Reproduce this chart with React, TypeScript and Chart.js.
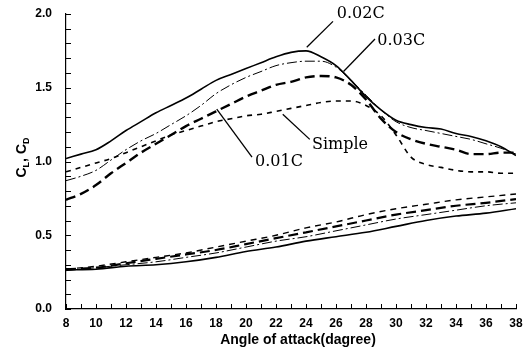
import { useEffect, useRef } from "react";
import { Chart, registerables } from "chart.js";

Chart.register(...registerables);

// ---- data ----
const angles = [8, 9, 10, 11, 12, 13, 14, 15, 16, 17, 18, 19, 20, 21, 22, 23, 24, 25, 26, 27, 28, 29, 30, 31, 32, 33, 34, 35, 36, 37, 38];

const cl002 = [1.02, 1.05, 1.08, 1.14, 1.21, 1.27, 1.33, 1.38, 1.43, 1.49, 1.55, 1.59, 1.63, 1.67, 1.71, 1.74, 1.75, 1.71, 1.65, 1.55, 1.44, 1.35, 1.28, 1.25, 1.23, 1.22, 1.19, 1.17, 1.14, 1.10, 1.04];
const cl003 = [0.87, 0.90, 0.94, 1.01, 1.08, 1.14, 1.19, 1.25, 1.31, 1.38, 1.46, 1.52, 1.57, 1.61, 1.65, 1.67, 1.68, 1.68, 1.64, 1.55, 1.45, 1.35, 1.27, 1.23, 1.21, 1.19, 1.17, 1.15, 1.12, 1.09, 1.05];
const cl001 = [0.74, 0.78, 0.84, 0.92, 0.99, 1.06, 1.12, 1.18, 1.24, 1.29, 1.34, 1.39, 1.44, 1.48, 1.52, 1.54, 1.57, 1.58, 1.57, 1.52, 1.42, 1.29, 1.20, 1.15, 1.12, 1.10, 1.08, 1.05, 1.05, 1.06, 1.06];
const clSimple = [0.93, 0.96, 0.99, 1.02, 1.06, 1.10, 1.14, 1.18, 1.21, 1.24, 1.27, 1.29, 1.31, 1.32, 1.34, 1.36, 1.38, 1.40, 1.41, 1.41, 1.38, 1.31, 1.18, 1.03, 0.98, 0.96, 0.94, 0.93, 0.93, 0.92, 0.92];

const dragAngles = [8, 10, 12, 14, 16, 18, 20, 22, 24, 26, 28, 30, 32, 34, 36, 38];
const cd002 = [0.265, 0.27, 0.29, 0.30, 0.32, 0.35, 0.39, 0.42, 0.46, 0.49, 0.52, 0.56, 0.60, 0.63, 0.65, 0.68];
const cd003 = [0.26, 0.28, 0.30, 0.32, 0.35, 0.38, 0.42, 0.46, 0.49, 0.53, 0.57, 0.61, 0.64, 0.67, 0.70, 0.72];
const cd001 = [0.27, 0.28, 0.31, 0.34, 0.37, 0.40, 0.44, 0.48, 0.52, 0.56, 0.60, 0.64, 0.67, 0.70, 0.72, 0.745];
const cdSimple = [0.27, 0.29, 0.32, 0.35, 0.38, 0.42, 0.46, 0.50, 0.55, 0.59, 0.64, 0.68, 0.71, 0.74, 0.76, 0.78];

const xMin = 8;
const xMax = 38;
const yMin = 0;
const yMax = 2;
const xTitle = "Angle of attack(dagree)";

const annotationTexts = ["0.02C", "0.03C", "Simple", "0.01C"];
const annotationFrom = [[24.05, 1.775], [26.5, 1.61], [22.45, 1.32], [18.05, 1.355]];
const annotationTo = [[25.8, 1.95], [28.6, 1.83], [24.25, 1.15], [20.4, 1.03]];
const annotationAt = [[26.05, 2.0], [28.75, 1.82], [24.4, 1.115], [20.6, 1.0]];

function pts(xs: number[], ys: number[]) {
  return xs.map((x, i) => ({ x, y: ys[i] }));
}

const overlayPlugin = {
  id: "overlay",
  afterDraw(chart: any) {
    const { ctx, chartArea } = chart;
    const xs = chart.scales.x;
    const ys = chart.scales.y;
    ctx.save();
    ctx.strokeStyle = "#000";
    ctx.fillStyle = "#000";

    // inward tick marks
    ctx.lineWidth = 1;
    ctx.beginPath();
    ys.ticks.forEach((t: any) => {
      const py = Math.round(ys.getPixelForValue(t.value)) + 0.5;
      ctx.moveTo(chartArea.left, py);
      ctx.lineTo(chartArea.left + 5, py);
    });
    xs.ticks.forEach((t: any) => {
      const px = Math.round(xs.getPixelForValue(t.value)) + 0.5;
      ctx.moveTo(px, chartArea.bottom);
      ctx.lineTo(px, chartArea.bottom - 5);
    });
    ctx.stroke();

    // leader lines + labels
    ctx.lineWidth = 1.3;
    ctx.font = '16px "DejaVu Serif"';
    ctx.textAlign = "left";
    ctx.textBaseline = "middle";
    annotationTexts.forEach((t, i) => {
      ctx.beginPath();
      ctx.moveTo(xs.getPixelForValue(annotationFrom[i][0]), ys.getPixelForValue(annotationFrom[i][1]));
      ctx.lineTo(xs.getPixelForValue(annotationTo[i][0]), ys.getPixelForValue(annotationTo[i][1]));
      ctx.stroke();
      ctx.fillText(t, xs.getPixelForValue(annotationAt[i][0]), ys.getPixelForValue(annotationAt[i][1]));
    });

    // x axis title
    ctx.font = 'bold 14px "Liberation Sans", Arial, sans-serif';
    ctx.textAlign = "center";
    ctx.textBaseline = "middle";
    ctx.fillText(xTitle, (chartArea.left + chartArea.right) / 2 + 7, chartArea.bottom + 31);

    // y axis title  C_L, C_D
    const cy = (chartArea.top + chartArea.bottom) / 2 - 4;
    ctx.translate(chartArea.left - 40, cy);
    ctx.rotate(-Math.PI / 2);
    const big = 'bold 14px "Liberation Sans", Arial, sans-serif';
    const small = 'bold 9px "Liberation Sans", Arial, sans-serif';
    const parts: [string, string, number][] = [
      ["C", big, 0],
      ["L", small, 3],
      [", ", big, 0],
      ["C", big, 0],
      ["D", small, 3],
    ];
    let total = 0;
    parts.forEach(([s, f]) => {
      ctx.font = f;
      total += ctx.measureText(s).width;
    });
    let px = -total / 2;
    ctx.textAlign = "left";
    ctx.textBaseline = "alphabetic";
    parts.forEach(([s, f, dy]) => {
      ctx.font = f;
      ctx.fillText(s, px, dy);
      px += ctx.measureText(s).width;
    });
    ctx.restore();
  },
};

export default function App() {
  const ref = useRef<HTMLCanvasElement | null>(null);

  useEffect(() => {
    if (!ref.current) return;
    const black = "#000";
    const base = {
      borderColor: black,
      pointRadius: 0,
      fill: false,
      cubicInterpolationMode: "monotone" as const,
    };
    const chart = new Chart(ref.current, {
      type: "line",
      data: {
        datasets: [
          { ...base, label: "0.02C", data: pts(angles, cl002), borderWidth: 1.6 },
          { ...base, label: "0.03C", data: pts(angles, cl003), borderWidth: 1, borderDash: [10, 3, 2, 3] },
          { ...base, label: "0.01C", data: pts(angles, cl001), borderWidth: 2.4, borderDash: [10, 5] },
          { ...base, label: "Simple", data: pts(angles, clSimple), borderWidth: 1.6, borderDash: [5, 5] },
          { ...base, label: "CD 0.02C", data: pts(dragAngles, cd002), borderWidth: 1.6 },
          { ...base, label: "CD 0.03C", data: pts(dragAngles, cd003), borderWidth: 1, borderDash: [10, 3, 2, 3] },
          { ...base, label: "CD 0.01C", data: pts(dragAngles, cd001), borderWidth: 2.2, borderDash: [10, 5] },
          { ...base, label: "CD Simple", data: pts(dragAngles, cdSimple), borderWidth: 1.4, borderDash: [6, 5] },
        ],
      },
      options: {
        responsive: false,
        animation: false,
        layout: { padding: { top: 14, right: 13, left: 0, bottom: 0 } },
        plugins: { legend: { display: false }, tooltip: { enabled: false } },
        scales: {
          x: {
            type: "linear",
            min: xMin,
            max: xMax,
            afterFit: (s: any) => {
              s.height = 46;
              s.paddingLeft = 0;
              s.paddingRight = 0;
            },
            ticks: {
              stepSize: 1,
              autoSkip: false,
              maxRotation: 0,
              padding: 7,
              color: black,
              font: { family: '"Liberation Sans", Arial, sans-serif', size: 12, weight: "bold" },
              callback: (v: any) => (Math.round(v) % 2 === 0 ? String(Math.round(v)) : ""),
            },
            grid: { display: false, drawTicks: false },
            border: { display: true, color: black, width: 1.2 },
          },
          y: {
            type: "linear",
            min: yMin,
            max: yMax,
            afterFit: (s: any) => {
              s.width = 66;
              s.paddingTop = 0;
              s.paddingBottom = 0;
            },
            ticks: {
              stepSize: 0.1,
              autoSkip: false,
              padding: 14,
              color: black,
              font: { family: '"Liberation Sans", Arial, sans-serif', size: 12, weight: "bold" },
              callback: (v: any) => {
                const n = Number(v);
                return Math.abs(n * 2 - Math.round(n * 2)) < 1e-6 ? n.toFixed(1) : "";
              },
            },
            grid: { display: false, drawTicks: false },
            border: { display: true, color: black, width: 1.2 },
          },
        },
      },
      plugins: [overlayPlugin],
    });
    return () => chart.destroy();
  }, []);

  return (
    <div style={{ position: "fixed", left: 0, top: 0, width: 529, height: 355, background: "#fff" }}>
      <canvas ref={ref} width={529} height={355} style={{ display: "block" }} />
    </div>
  );
}
